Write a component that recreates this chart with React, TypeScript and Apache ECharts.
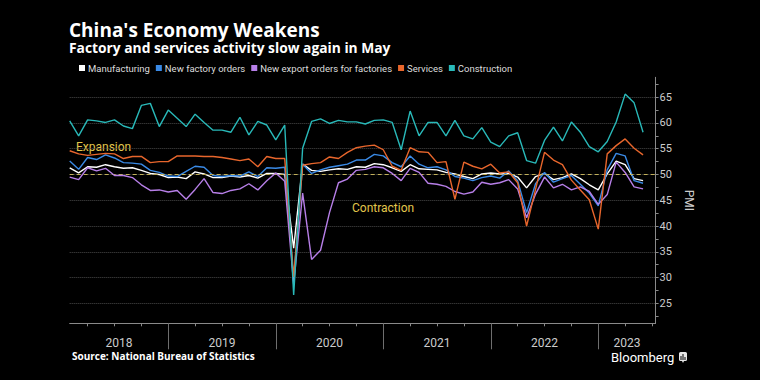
import React, { useEffect, useRef } from 'react';
import * as echarts from 'echarts';

// Monthly PMI readings, Jan 2018 – May 2023
const years = ['2018', '2019', '2020', '2021', '2022', '2023'];

const manufacturing = [
  51.3, 50.3, 51.5, 51.4, 51.9, 51.5, 51.2, 51.3, 50.8, 50.2, 50.0, 49.4,
  49.5, 49.2, 50.5, 50.1, 49.4, 49.4, 49.7, 49.5, 49.8, 49.3, 50.2, 50.2,
  50.0, 35.7, 52.0, 50.8, 50.6, 50.9, 51.1, 51.0, 51.5, 51.4, 52.1, 51.9,
  51.3, 50.6, 51.9, 51.1, 51.0, 50.9, 50.4, 50.1, 49.6, 49.2, 50.1, 50.3,
  50.1, 50.2, 49.5, 47.4, 49.6, 50.2, 49.0, 49.4, 50.1, 49.2, 48.0, 47.0,
  50.1, 52.6, 51.9, 49.2, 48.8,
];

const newOrders = [
  52.6, 51.0, 53.3, 52.9, 53.8, 53.2, 52.3, 52.2, 52.0, 50.8, 50.4, 49.7,
  49.6, 50.6, 51.6, 51.4, 49.8, 49.6, 49.8, 49.7, 50.5, 49.6, 51.3, 51.2,
  51.4, 29.3, 52.0, 50.2, 50.9, 51.4, 51.7, 52.0, 52.8, 52.8, 53.9, 53.6,
  52.3, 51.5, 53.6, 52.0, 51.3, 51.5, 50.9, 49.6, 49.3, 48.8, 49.4, 49.7,
  49.3, 50.7, 48.8, 42.6, 48.2, 50.4, 48.5, 49.2, 49.8, 48.1, 46.4, 43.9,
  50.9, 54.1, 53.6, 48.8, 48.3,
];

const exportOrders = [
  49.5, 49.0, 51.3, 50.7, 51.2, 49.8, 49.8, 49.4, 48.0, 46.9, 47.0, 46.6,
  46.9, 45.2, 47.1, 49.2, 46.5, 46.3, 46.9, 47.2, 48.2, 47.0, 48.8, 50.3,
  48.7, 28.7, 46.4, 33.5, 35.3, 42.6, 48.4, 49.1, 50.8, 51.0, 51.5, 51.3,
  50.2, 48.8, 51.2, 50.4, 48.3, 48.1, 47.7, 46.7, 46.2, 46.6, 48.5, 48.1,
  48.4, 49.0, 47.2, 41.6, 46.2, 49.5, 47.4, 48.1, 47.0, 47.6, 46.7, 44.2,
  46.1, 52.4, 50.4, 47.6, 47.2,
];

const services = [
  54.6, 54.0, 53.7, 53.9, 54.1, 54.0, 53.1, 53.5, 53.5, 52.3, 52.5, 52.5,
  53.6, 53.6, 53.6, 53.5, 53.5, 53.3, 53.0, 52.7, 53.0, 51.5, 53.5, 53.1,
  53.1, 30.1, 51.8, 52.1, 52.3, 53.4, 53.1, 54.3, 55.2, 55.5, 55.7, 54.8,
  51.6, 50.8, 55.2, 54.4, 54.3, 52.3, 52.5, 45.2, 52.4, 51.6, 51.1, 52.0,
  50.3, 50.5, 48.4, 40.0, 47.1, 54.3, 52.8, 51.9, 48.9, 47.0, 45.1, 39.4,
  54.0, 55.6, 56.9, 55.1, 53.8,
];

const construction = [
  60.4, 57.5, 60.6, 60.4, 60.1, 60.6, 59.4, 58.9, 63.4, 63.8, 59.3, 62.5,
  60.9, 59.3, 61.7, 60.1, 58.6, 58.6, 58.2, 61.1, 57.7, 60.3, 59.6, 56.7,
  59.6, 26.6, 55.1, 60.3, 60.8, 59.9, 60.5, 60.2, 60.2, 59.8, 60.5, 60.6,
  60.1, 54.8, 62.3, 57.5, 60.1, 60.1, 57.5, 60.5, 57.5, 56.9, 59.1, 56.3,
  55.4, 57.5, 58.1, 52.7, 52.2, 56.6, 59.2, 56.5, 60.2, 58.2, 55.4, 54.4,
  56.4, 60.2, 65.6, 63.9, 58.2,
];

const seriesNames = [
  'Manufacturing',
  'New factory orders',
  'New export orders for factories',
  'Services',
  'Construction',
];
const seriesColors = ['#ffffff', '#3a8ae6', '#b77fe8', '#e8662c', '#29b9b9'];
const seriesData = [manufacturing, newOrders, exportOrders, services, construction];

const yTickLabels = [25, 30, 35, 40, 45, 50, 55, 60, 65];
const yMinorTicks = [22.5, 27.5, 32.5, 37.5, 42.5, 47.5, 52.5, 57.5, 62.5, 67.5];
const thresholdValue = 50;

export default function App() {
  const ref = useRef<HTMLDivElement>(null);

  useEffect(() => {
    if (!ref.current) return;
    const chart = echarts.init(ref.current, null, { renderer: 'svg' });

    const n = manufacturing.length;
    const xMin = 1; // end of Jan 2018
    const xMax = n + 1.4;
    const separators = years.slice(1).map((_, i) => (i + 1) * 12);
    const quarterTicks: number[] = [];
    for (let q = 3; q < xMax; q += 3) if (q % 12 !== 0) quarterTicks.push(q);
    const yearLabelPos = years.map(
      (_, i) => (Math.max(i * 12, xMin) + Math.min((i + 1) * 12, xMax)) / 2
    );

    const baseX = {
      type: 'value' as const,
      min: xMin,
      max: xMax,
      position: 'bottom' as const,
      splitLine: { show: false },
    };
    const baseY = {
      type: 'value' as const,
      min: 21.12,
      max: 68.86,
      position: 'right' as const,
    };

    const option: any = {
      animation: false,
      backgroundColor: '#000000',
      title: [
        {
          text: "China's Economy Weakens",
          left: 69,
          top: 20.5,
          padding: 0,
          textStyle: {
            color: '#ffffff', fontSize: 19, lineHeight: 19, fontWeight: 'bold', fontFamily: 'Open Sans',
          },
        },
        {
          text: 'Factory and services activity slow again in May',
          left: 69,
          top: 40,
          padding: 0,
          textStyle: {
            color: '#ffffff', fontSize: 13.8, lineHeight: 14, fontWeight: 'bold', fontFamily: 'Open Sans',
          },
        },
      ],
      legend: {
        data: seriesNames,
        left: 74,
        top: 58,
        icon: 'rect',
        itemWidth: 6,
        itemHeight: 6,
        itemGap: 6,
        textStyle: { color: '#dddddd', fontSize: 9.5, fontFamily: 'Roboto', padding: [0, 0, 0, -2] },
      },
      grid: {
        left: 69.7,
        right: 104.4,
        top: 77.3,
        bottom: 56.7,
        containLabel: false,
        outerBoundsMode: 'none',
      },
      xAxis: [
        {
          ...baseX,
          axisLine: { show: true, lineStyle: { color: '#8a8a8a', width: 1 } },
          axisTick: { show: true, length: 3, customValues: quarterTicks, lineStyle: { color: '#8a8a8a' } },
          axisLabel: { show: false },
        },
        {
          ...baseX,
          axisLine: { show: false },
          axisTick: { show: true, length: 26, customValues: separators, lineStyle: { color: '#6e6e6e' } },
          axisLabel: { show: false },
        },
        {
          ...baseX,
          axisLine: { show: false },
          axisTick: { show: false },
          axisLabel: {
            show: true,
            customValues: yearLabelPos,
            margin: 14,
            color: '#cccccc',
            fontSize: 12,
            lineHeight: 12,
            fontFamily: 'Roboto',
            formatter: (v: number) => years[Math.min(years.length - 1, Math.floor(v / 12))],
          },
        },
      ],
      yAxis: [
        {
          ...baseY,
          name: 'PMI',
          nameLocation: 'middle',
          nameRotate: -90,
          nameGap: 17,
          nameTextStyle: { color: '#cccccc', fontSize: 12, fontFamily: 'Roboto' },
          axisLine: { show: true, lineStyle: { color: '#8a8a8a', width: 1 } },
          axisTick: { show: true, length: 3, customValues: yTickLabels, lineStyle: { color: '#8a8a8a' } },
          axisLabel: {
            show: true,
            customValues: yTickLabels,
            margin: 4,
            color: '#cccccc',
            fontSize: 11,
            fontFamily: 'Roboto',
          },
          splitLine: { show: true, lineStyle: { color: '#4a4a4a', type: 'dotted', width: 1 } },
        },
        {
          ...baseY,
          axisLine: { show: false },
          axisTick: { show: true, length: 3, customValues: yMinorTicks, lineStyle: { color: '#8a8a8a' } },
          axisLabel: { show: false },
          splitLine: { show: false },
        },
      ],
      series: seriesNames.map((name, si) => ({
        name,
        type: 'line',
        xAxisIndex: 0,
        yAxisIndex: 0,
        data: seriesData[si].map((v, i) => [i + 1, v]),
        color: seriesColors[si],
        showSymbol: false,
        symbol: 'none',
        lineStyle: { color: seriesColors[si], width: 1.4 },
        emphasis: { disabled: true },
        z: 3 + si,
        markLine:
          si === 0
            ? {
                silent: true,
                symbol: ['none', 'none'],
                label: { show: false },
                lineStyle: { color: '#c2b05a', type: [4, 3], width: 1 },
                data: [{ yAxis: thresholdValue }],
              }
            : undefined,
      })),
      graphic: [
        {
          type: 'text',
          left: 76,
          top: 141,
          style: { text: 'Expansion', fill: '#e2c64c', fontSize: 12, fontFamily: 'Roboto' },
        },
        {
          type: 'text',
          left: 352,
          top: 202,
          style: { text: 'Contraction', fill: '#e2c64c', fontSize: 12, fontFamily: 'Roboto' },
        },
        {
          type: 'text',
          left: 72,
          top: 351,
          style: {
            text: 'Source: National Bureau of Statistics',
            fill: '#ffffff',
            fontSize: 10,
            fontWeight: 'bold',
            fontFamily: 'Open Sans',
          },
        },
        {
          type: 'text',
          left: 611,
          top: 351,
          style: { text: 'Bloomberg', fill: '#ffffff', fontSize: 13, lineHeight: 13, fontFamily: 'Roboto' },
        },
        {
          type: 'group',
          left: 679,
          top: 352,
          children: [
            { type: 'rect', shape: { x: 0, y: 0, width: 8, height: 9, r: 1.5 }, style: { fill: '#e6e6e6' } },
            { type: 'polygon', shape: { points: [[3, 9], [5, 9], [4, 11]] }, style: { fill: '#e6e6e6' } },
            { type: 'rect', shape: { x: 1.5, y: 4, width: 1, height: 4 }, style: { fill: '#000' } },
            { type: 'rect', shape: { x: 3.5, y: 2, width: 1, height: 6 }, style: { fill: '#000' } },
            { type: 'rect', shape: { x: 5.5, y: 5, width: 1, height: 3 }, style: { fill: '#000' } },
          ],
        },
      ],
    };

    chart.setOption(option);
    return () => chart.dispose();
  }, []);

  return (
    <div
      ref={ref}
      style={{ position: 'fixed', left: 0, top: 0, width: 760, height: 380, background: '#000' }}
    />
  );
}
